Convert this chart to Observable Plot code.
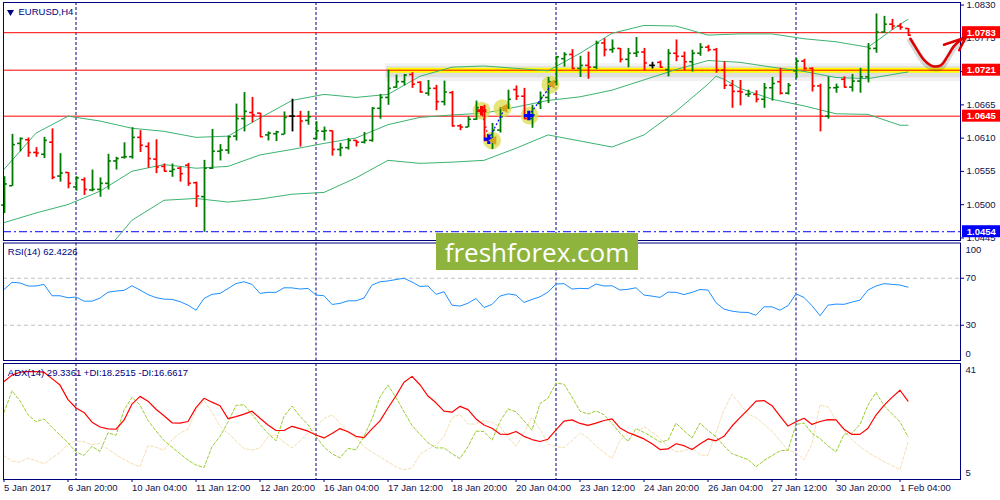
<!DOCTYPE html>
<html><head><meta charset="utf-8">
<script src="https://cdn.jsdelivr.net/npm/d3@7"></script>
<script src="https://cdn.jsdelivr.net/npm/@observablehq/plot@0.6"></script>
<style>
html,body{margin:0;padding:0;background:#fff;}
#chart{position:relative;width:1000px;height:500px;overflow:hidden;background:#fff;}
#chart svg{position:absolute;left:0;top:0;}
</style></head><body><div id="chart"></div>
<script>
// ---------- DATA ----------
const barOpen = [1.0498,1.0530,1.0600,1.0606,1.0585,1.0582,1.0602,1.0546,1.0552,1.0528,
1.0540,1.0523,1.0524,1.0534,1.0571,1.0577,1.0578,1.0610,1.0595,1.0574,
1.0562,1.0554,1.0559,1.0564,1.0535,1.0512,1.0559,1.0587,1.0589,1.0612,
1.0641,1.0651,1.0650,1.0614,1.0616,1.0615,1.0645,1.0645,1.0638,1.0608,
1.0620,1.0621,1.0590,1.0593,1.0605,1.0602,1.0605,1.0658,1.0676,1.0693,
1.0702,1.0714,1.0701,1.0683,1.0691,1.0669,1.0684,1.0629,1.0627,1.0640,
1.0659,1.0605,1.0622,1.0660,1.0689,1.0678,1.0641,1.0666,1.0676,1.0702,
1.0740,1.0747,1.0724,1.0729,1.0726,1.0766,1.0755,1.0757,1.0739,1.0749,
1.0751,1.0729,1.0734,1.0722,1.0749,1.0744,1.0735,1.0749,1.0759,1.0755,
1.0721,1.0696,1.0686,1.0681,1.0681,1.0673,1.0692,1.0702,1.0683,1.0720,
1.0736,1.0724,1.0695,1.0645,1.0692,1.0706,1.0693,1.0703,1.0710,1.0757,
1.0784,1.0797,1.0794,1.0790];
const barHigh = [1.0545,1.0615,1.0609,1.0609,1.0593,1.0610,1.0624,1.0583,1.0552,1.0545,
1.0543,1.0556,1.0543,1.0582,1.0577,1.0601,1.0626,1.0621,1.0601,1.0606,
1.0566,1.0566,1.0561,1.0567,1.0536,1.0572,1.0623,1.0598,1.0612,1.0665,
1.0684,1.0676,1.0650,1.0619,1.0620,1.0652,1.0673,1.0653,1.0653,1.0636,
1.0627,1.0621,1.0600,1.0608,1.0605,1.0618,1.0659,1.0681,1.0721,1.0713,
1.0714,1.0717,1.0702,1.0704,1.0696,1.0703,1.0686,1.0631,1.0644,1.0670,
1.0663,1.0633,1.0659,1.0688,1.0695,1.0691,1.0663,1.0685,1.0709,1.0744,
1.0750,1.0755,1.0744,1.0751,1.0769,1.0773,1.0771,1.0757,1.0757,1.0775,
1.0757,1.0734,1.0736,1.0755,1.0771,1.0751,1.0754,1.0765,1.0762,1.0757,
1.0735,1.0704,1.0704,1.0688,1.0687,1.0699,1.0709,1.0724,1.0699,1.0740,
1.0739,1.0725,1.0698,1.0710,1.0698,1.0710,1.0714,1.0724,1.0765,1.0814,
1.0810,1.0805,1.0798,1.0790];
const barLow = [1.0484,1.0529,1.0586,1.0577,1.0577,1.0575,1.0540,1.0536,1.0525,1.0521,
1.0514,1.0520,1.0511,1.0523,1.0556,1.0574,1.0574,1.0585,1.0559,1.0550,
1.0553,1.0544,1.0536,1.0529,1.0494,1.0453,1.0557,1.0571,1.0582,1.0604,
1.0619,1.0634,1.0610,1.0604,1.0603,1.0614,1.0619,1.0594,1.0630,1.0606,
1.0604,1.0579,1.0578,1.0589,1.0594,1.0599,1.0602,1.0640,1.0663,1.0691,
1.0695,1.0691,1.0683,1.0678,1.0654,1.0662,1.0627,1.0621,1.0626,1.0638,
1.0603,1.0590,1.0617,1.0656,1.0671,1.0640,1.0625,1.0656,1.0666,1.0695,
1.0726,1.0722,1.0709,1.0706,1.0722,1.0743,1.0749,1.0733,1.0725,1.0742,
1.0720,1.0723,1.0724,1.0710,1.0735,1.0720,1.0718,1.0744,1.0751,1.0716,
1.0689,1.0658,1.0662,1.0676,1.0667,1.0658,1.0670,1.0680,1.0680,1.0707,
1.0721,1.0685,1.0619,1.0640,1.0683,1.0692,1.0685,1.0683,1.0700,1.0749,
1.0782,1.0787,1.0787,1.0777];
const barClose = [1.0533,1.0598,1.0608,1.0585,1.0584,1.0605,1.0544,1.0551,1.0534,1.0543,
1.0524,1.0524,1.0534,1.0571,1.0575,1.0578,1.0610,1.0597,1.0575,1.0561,
1.0554,1.0557,1.0550,1.0534,1.0513,1.0559,1.0587,1.0589,1.0611,1.0641,
1.0653,1.0647,1.0611,1.0617,1.0619,1.0643,1.0645,1.0637,1.0644,1.0621,
1.0621,1.0590,1.0593,1.0605,1.0602,1.0605,1.0658,1.0676,1.0691,1.0702,
1.0713,1.0698,1.0685,1.0691,1.0669,1.0685,1.0629,1.0627,1.0640,1.0659,
1.0605,1.0622,1.0644,1.0673,1.0678,1.0641,1.0647,1.0676,1.0702,1.0743,
1.0747,1.0724,1.0729,1.0726,1.0766,1.0755,1.0757,1.0739,1.0749,1.0751,
1.0733,1.0729,1.0726,1.0749,1.0744,1.0735,1.0749,1.0759,1.0755,1.0721,
1.0696,1.0686,1.0685,1.0682,1.0673,1.0692,1.0699,1.0683,1.0696,1.0736,
1.0724,1.0695,1.0645,1.0692,1.0693,1.0693,1.0703,1.0710,1.0757,1.0784,
1.0797,1.0794,1.0792,1.0779];

const bbIdx = [0,4,8,12,16,20,24,28,32,36,40,44,48,52,56,60,64,68,72,76,80,84,88,92,96,100,104,108,112,113];
const bbUpper = [1.0557,1.0617,1.0645,1.0637,1.0625,1.0620,1.0610,1.0612,1.0642,1.0671,1.0681,1.0676,1.0681,1.0711,1.0726,1.0728,1.0724,1.0720,1.0749,1.0782,1.0795,1.0794,1.0779,1.0781,1.0781,1.0773,1.0768,1.0759,1.0797,1.0805];
const bbMiddle = [1.0469,1.0485,1.0499,1.0521,1.0554,1.0565,1.0559,1.0562,1.0581,1.0590,1.0600,1.0609,1.0631,1.0643,1.0647,1.0650,1.0660,1.0671,1.0677,1.0688,1.0705,1.0722,1.0737,1.0734,1.0726,1.0719,1.0709,1.0707,1.0716,1.0718];
const bbLowerIdx = [10,12,14,16,20,24,28,32,36,40,44,48,52,56,60,64,68,72,76,80,84,88,89,90,92,96,100,104,108,112,113];
const bbLower = [1.0387,1.0414,1.0442,1.0473,1.0506,1.0509,1.0503,1.0508,1.0516,1.0519,1.0543,1.0572,1.0567,1.0569,1.0572,1.0592,1.0614,1.0604,1.0594,1.0614,1.0653,1.0698,1.0711,1.0706,1.0691,1.0673,1.0662,1.0649,1.0648,1.0630,1.0630];

const rsi = [60.4,66.5,66.0,63.4,63.4,64.8,55.1,55.1,53.4,54.0,
50.5,50.5,53.1,58.1,59.1,59.7,63.6,60.0,56.1,53.5,
52.2,52.0,50.1,47.1,42.8,52.8,56.3,57.1,61.2,65.5,
67.0,64.8,57.1,58.0,58.0,61.9,61.8,60.8,61.4,55.7,
55.1,47.7,48.6,50.8,50.8,53.1,64.2,67.0,67.7,68.9,
70.0,66.8,63.0,63.4,56.3,58.5,47.1,46.3,48.8,52.8,
45.1,47.7,54.8,56.7,55.7,49.4,52.0,54.2,58.2,65.1,
65.4,60.8,61.4,61.1,65.1,63.4,63.6,60.0,60.6,61.9,
55.7,54.8,53.7,58.2,58.0,56.1,58.0,60.4,60.0,49.2,
43.7,42.0,41.1,40.9,38.5,45.7,45.7,42.8,46.7,56.7,
53.7,46.6,38.1,47.1,48.0,47.8,49.7,51.4,60.0,63.4,
65.4,64.8,64.2,62.4226];

const adx = [35.4,37.4,38.3,38.5,38.5,38.3,36.3,34.3,29.8,27.2,
25.8,22.8,21.3,20.7,20.6,23.4,28.4,30.8,29.3,26.8,
24.8,22.6,22.5,23.0,27.3,30.2,29.0,27.9,23.9,24.5,
25.3,26.2,24.0,21.9,20.2,20.2,21.5,20.8,20.0,18.8,
17.9,19.3,20.8,19.8,18.4,18.0,20.7,23.2,27.2,31.0,
35.2,37.0,34.4,30.9,28.8,26.2,25.9,27.7,26.7,23.8,
21.9,20.9,19.1,19.0,19.9,18.4,17.4,16.8,17.5,20.4,
23.1,23.5,22.4,21.8,22.5,23.3,23.8,21.0,19.6,18.6,
17.6,16.1,14.3,14.5,16.1,15.5,14.3,16.0,17.6,17.0,
18.4,21.6,24.2,26.7,29.3,29.5,27.9,24.7,21.6,22.9,
24.0,22.1,23.0,23.6,23.5,20.6,19.0,19.0,20.9,25.0,
28.0,30.5,32.7,29.3361];
const diPlus = [25.8,32.5,29.4,25.1,22.9,23.8,21.2,18.8,16.4,13.5,
12.5,15.3,13.7,19.5,18.7,26.5,30.5,28.1,23.3,20.1,
17.1,15.0,13.0,11.0,9.5,8.7,15.2,18.4,22.8,28.0,
28.2,25.2,22.1,19.3,17.0,24.6,27.8,24.6,22.0,18.3,
15.1,13.0,11.7,14.7,14.2,18.4,23.8,30.6,34.3,30.4,
26.0,21.8,19.0,16.4,14.8,14.8,13.0,11.5,15.2,20.0,
19.9,17.2,23.0,26.9,26.0,23.2,20.3,28.6,30.2,34.9,
34.6,30.6,26.2,25.3,26.3,25.1,22.4,19.4,16.8,20.8,
19.6,18.2,16.6,17.2,22.5,20.1,17.9,22.5,20.2,18.3,
15.4,13.0,12.1,11.2,8.9,10.9,12.4,13.9,14.1,22.1,
22.5,19.3,17.7,15.4,13.6,19.0,19.4,22.1,28.1,32.0,
27.9,25.4,22.9,18.2515];
const diMinus = [12.4,10.7,10.4,11.7,10.8,9.9,11.7,13.4,15.9,17.0,
16.7,15.8,16.2,14.4,12.7,11.2,9.9,8.9,15.6,15.0,
14.1,17.3,19.4,20.6,26.5,29.4,25.8,21.6,19.4,17.0,
14.6,14.1,14.8,18.3,18.8,16.5,14.8,17.0,19.4,21.5,
23.9,25.1,22.4,19.9,17.9,15.2,13.5,12.0,10.5,8.9,
8.0,8.6,12.8,14.4,15.6,18.3,24.1,25.2,22.2,22.2,
23.2,22.7,21.4,18.2,15.3,19.5,24.3,20.6,16.0,15.2,
14.9,17.0,19.5,17.9,15.4,13.4,11.5,17.1,19.5,18.9,
21.4,19.7,17.8,15.2,13.6,13.9,14.8,12.6,12.5,19.6,
26.6,31.5,28.5,25.3,24.2,22.2,20.0,17.1,14.1,13.3,
11.1,16.1,28.1,27.5,23.5,20.1,17.4,15.2,13.4,12.0,
10.5,9.4,8.0,16.6617];

const weekStartIdx = [9, 39, 69, 99];
const dateTickIdx = [0,8,16,24,32,40,48,56,64,72,80,88,96,104,112];
const dateTickLabels = ["5 Jan 2017","6 Jan 20:00","10 Jan 04:00","11 Jan 12:00","12 Jan 20:00","16 Jan 04:00","17 Jan 12:00","18 Jan 20:00","20 Jan 04:00","23 Jan 12:00","24 Jan 20:00","26 Jan 04:00","27 Jan 12:00","30 Jan 20:00","1 Feb 04:00"];
const priceTicks = [1.0830,1.0775,1.0720,1.0665,1.0610,1.0555,1.0500,1.0445];
const resistancePrices = [1.0783, 1.0721, 1.0645];
const supportPrices = [1.0454];
const zonePrice = 1.0721;
const zoneStartIdx = 48;
const rsiLevels = [70, 30];
const rsiEdgeTop = 100, rsiEdgeBottom = 0;
const adxScaleMax = 41, adxScaleMin = 5;

const tradeCircleIdx = [59.7, 62.3, 61.0, 65.7, 68.3];
const tradeCirclePrice = [1.0654, 1.0658, 1.0605, 1.0646, 1.0697];
const sellOpenIdx = [59.7], sellOpenPrice = [1.0654];
const buyOpenIdx = [60.6, 65.6], buyOpenPrice = [1.0607, 1.0646];
const closeIdx = [62.6, 61.2, 68.5], closePrice = [1.0658, 1.0605, 1.0698];
const linkKind = ["sell", "buy", "buy"];
const linkFromIdx = [59.7, 60.6, 65.6], linkFromPrice = [1.0654, 1.0607, 1.0646];
const linkToIdx = [60.6, 62.6, 68.5], linkToPrice = [1.0607, 1.0658, 1.0698];

const forecastIdx = [113.3,113.9,115.0,116.0,117.1,117.9,118.7,119.6,120.2];
const forecastPrice = [1.0773,1.0760,1.0738,1.0728,1.0729,1.0743,1.0760,1.0771,1.0775];
const arrowHeadIdx = [117.5,120.2,119.4];
const arrowHeadPrice = [1.0763,1.0775,1.0754];

// ---------- LAYOUT / STYLE ----------
const W = 1000, H = 500, ML = 3, MR = 40;
const xDomain = [-0.0625, 119.5625];
const yMainDomain = [1.04395, 1.08329];
const navy = "#000080", ink = "#10104a";
const upC = "#007a00", downC = "#ff0000", dojiC = "#000000";
const bandC = "#3cb371";
const fmt4 = d3.format(".4f");
const baseStyle = {background: "transparent", overflow: "visible", color: ink,
  fontFamily: "'Liberation Sans', Arial, sans-serif", fontSize: "9.5px"};

const bars = barOpen.map((o, i) => ({i, o, h: barHigh[i], l: barLow[i], c: barClose[i],
  col: barClose[i] > o ? upC : barClose[i] < o ? downC : dojiC}));
const upper = bbIdx.map((i, k) => ({i, v: bbUpper[k]}));
const middle = bbIdx.map((i, k) => ({i, v: bbMiddle[k]}));
const lower = bbLowerIdx.map((i, k) => ({i, v: bbLower[k]}));
const pricePerPx = (yMainDomain[1] - yMainDomain[0]) / 238;
const boxes = [...resistancePrices.map(p => ({p, col: "#ff0000"})), ...supportPrices.map(p => ({p, col: "#0000ff"}))];
const circles = tradeCircleIdx.map((i, k) => ({i, p: tradeCirclePrice[k]}));
const links = linkKind.map((k, j) => ({k, x1: linkFromIdx[j], y1: linkFromPrice[j], x2: linkToIdx[j], y2: linkToPrice[j]}));
const forecast = forecastIdx.map((i, k) => ({i, p: forecastPrice[k]}));
const head = arrowHeadIdx.map((i, k) => ({i, p: arrowHeadPrice[k]}));
const xR = xDomain[1];

const main = Plot.plot({
  width: W, height: H, marginLeft: ML, marginRight: MR, marginTop: 2, marginBottom: 260,
  x: {domain: xDomain, axis: null},
  y: {domain: yMainDomain, axis: null},
  color: {type: "identity"},
  style: baseStyle,
  marks: [
    Plot.ruleX(weekStartIdx, {x: d => d, stroke: navy, strokeDasharray: "3,2"}),
    Plot.ruleY([zonePrice], {y: d => d, x1: zoneStartIdx - 0.3, x2: xR, stroke: "#000", strokeOpacity: 0.05, strokeWidth: 18, dy: 2}),
    Plot.ruleY([zonePrice], {y: d => d, x1: zoneStartIdx - 0.2, x2: xR, stroke: "#000", strokeOpacity: 0.08, strokeWidth: 11, dy: 1.5}),
    Plot.ruleY([zonePrice], {y: d => d, x1: zoneStartIdx, x2: xR, stroke: "#ffff00", strokeWidth: 5}),
    Plot.ruleY(resistancePrices, {y: d => d, stroke: "#ff0000"}),
    Plot.ruleY(supportPrices, {y: d => d, stroke: "#0000ff", strokeDasharray: "8,3,2,3"}),
    Plot.line(upper, {x: "i", y: "v", stroke: bandC, strokeWidth: 1}),
    Plot.line(middle, {x: "i", y: "v", stroke: bandC, strokeWidth: 1}),
    Plot.line(lower, {x: "i", y: "v", stroke: bandC, strokeWidth: 1, clip: true}),
    Plot.dot(circles, {x: "i", y: "p", r: 9, fill: "#dcdc4e", fillOpacity: 0.75}),
    Plot.ruleX(bars, {x: "i", y1: "l", y2: "h", stroke: "col", strokeWidth: 1.8, dx: 0.5}),
    Plot.ruleY(bars, {y: "o", x1: d => d.i - 0.36, x2: "i", stroke: "col", strokeWidth: 1.6, dx: 0.5}),
    Plot.ruleY(bars, {y: "c", x1: "i", x2: d => d.i + 0.36, stroke: "col", strokeWidth: 1.6, dx: 0.5}),
    Plot.link(links, {x1: "x1", y1: "y1", x2: "x2", y2: "y2", stroke: d => d.k === "sell" ? "#ff0000" : "#0000ff", strokeDasharray: "2,2", strokeWidth: 1.2}),
    Plot.dot(sellOpenIdx, {x: d => d, y: (d, k) => sellOpenPrice[k], symbol: "cross", r: 4, fill: "#ff0000"}),
    Plot.dot(buyOpenIdx, {x: d => d, y: (d, k) => buyOpenPrice[k], symbol: "cross", r: 4, fill: "#0000ff"}),
    Plot.dot(closeIdx, {x: d => d, y: (d, k) => closePrice[k], symbol: "triangle", rotate: -90, r: 3.5, fill: "#d9a21b"}),
    Plot.axisY({anchor: "right", ticks: priceTicks, tickFormat: fmt4, tickSize: 3, tickPadding: 3, dy: 0.8, stroke: navy, fill: ink}),
    Plot.frame({stroke: navy}),
    Plot.rect(boxes, {x1: xR + 0.25, x2: xR + 5.2, y1: d => d.p - 6 * pricePerPx, y2: d => d.p + 6 * pricePerPx, fill: "col"}),
    Plot.text(boxes, {x: xR + 2.6, y: "p", text: d => fmt4(d.p), fill: "white", fontWeight: "bold"}),
    Plot.line(forecast, {x: "i", y: "p", curve: "catmull-rom", stroke: "#000", strokeOpacity: 0.15, strokeWidth: 6, dy: 2}),
    Plot.line(forecast, {x: "i", y: "p", curve: "catmull-rom", stroke: "#dd0000", strokeWidth: 2.5}),
    Plot.line(head, {x: "i", y: "p", stroke: "#dd0000", strokeWidth: 2.5, strokeLinejoin: "round"}),
    Plot.dot([0], {frameAnchor: "top-left", dx: 7, dy: 9.5, symbol: "triangle", r: 2.6, rotate: 180, fill: navy}),
    Plot.text(["EURUSD,H4"], {frameAnchor: "top-left", dx: 15, dy: 9, textAnchor: "start", lineAnchor: "middle", fill: navy})
  ]
});

const rsiPlot = Plot.plot({
  width: W, height: H, marginLeft: ML, marginRight: MR, marginTop: 242.5, marginBottom: 140,
  x: {domain: xDomain, axis: null},
  y: {domain: [0, 100], axis: null},
  style: baseStyle,
  marks: [
    Plot.ruleY(rsiLevels, {y: d => d, stroke: "#c0c0c0", strokeDasharray: "4,3"}),
    Plot.ruleX(weekStartIdx, {x: d => d, stroke: navy, strokeDasharray: "3,2"}),
    Plot.line(rsi, {x: (d, i) => i, y: d => d, stroke: "#1e90ff", strokeWidth: 1}),
    Plot.axisY({anchor: "right", ticks: rsiLevels, tickSize: 3, tickPadding: 2, stroke: navy, fill: ink}),
    Plot.text([rsiEdgeTop], {frameAnchor: "right", y: d => d, text: d => d, dx: 5, dy: 6.5, textAnchor: "start", fill: ink}),
    Plot.text([rsiEdgeBottom], {frameAnchor: "right", y: d => d, text: d => d, dx: 5, dy: -7, textAnchor: "start", fill: ink}),
    Plot.frame({stroke: navy}),
    Plot.text([`RSI(14) ${rsi[rsi.length - 1].toFixed(4)}`], {frameAnchor: "top-left", dx: 4.3, dy: 9, textAnchor: "start", lineAnchor: "middle", fill: navy})
  ]
});

const adxPlot = Plot.plot({
  width: W, height: H, marginLeft: ML, marginRight: MR, marginTop: 363, marginBottom: 21,
  x: {domain: xDomain, axis: null},
  y: {domain: [adxScaleMin, adxScaleMax], axis: null},
  style: baseStyle,
  marks: [
    Plot.ruleX(weekStartIdx, {x: d => d, stroke: navy, strokeDasharray: "3,2"}),
    Plot.line(diMinus, {x: (d, i) => i, y: d => d, stroke: "#f5deb3", strokeWidth: 1, strokeDasharray: "3,2"}),
    Plot.line(diPlus, {x: (d, i) => i, y: d => d, stroke: "#9acd32", strokeWidth: 1, strokeDasharray: "3,2"}),
    Plot.line(adx, {x: (d, i) => i, y: d => d, stroke: "#ff0000", strokeWidth: 1.2}),
    Plot.axisX({anchor: "bottom", ticks: dateTickIdx, tickFormat: d => dateTickLabels[dateTickIdx.indexOf(d)], tickSize: 3, tickPadding: 2, textAnchor: "start", stroke: navy, fill: ink}),
    Plot.text([adxScaleMax], {frameAnchor: "right", y: d => d, text: d => d, dx: 5, dy: 6.5, textAnchor: "start", fill: ink}),
    Plot.text([adxScaleMin], {frameAnchor: "right", y: d => d, text: d => d, dx: 5, dy: -6.5, textAnchor: "start", fill: ink}),
    Plot.frame({stroke: navy}),
    Plot.text([`ADX(14) ${adx[adx.length - 1].toFixed(4)} +DI:${diPlus[diPlus.length - 1].toFixed(4)} -DI:${diMinus[diMinus.length - 1].toFixed(4)}`],
      {frameAnchor: "top-left", dx: 4.3, dy: 9, textAnchor: "start", lineAnchor: "middle", fill: navy})
  ]
});

// watermark
const ns = "http://www.w3.org/2000/svg";
const wm = document.createElementNS(ns, "svg");
wm.setAttribute("width", W); wm.setAttribute("height", H);
wm.innerHTML = `<rect x="436" y="233" width="202" height="37" fill="#8fb43e"/>
<text x="537" y="262" text-anchor="middle" fill="#ffffff" font-family="'Open Sans', sans-serif" font-size="26">freshforex.com</text>`;

document.getElementById("chart").append(main, rsiPlot, adxPlot, wm);
</script></body></html>
